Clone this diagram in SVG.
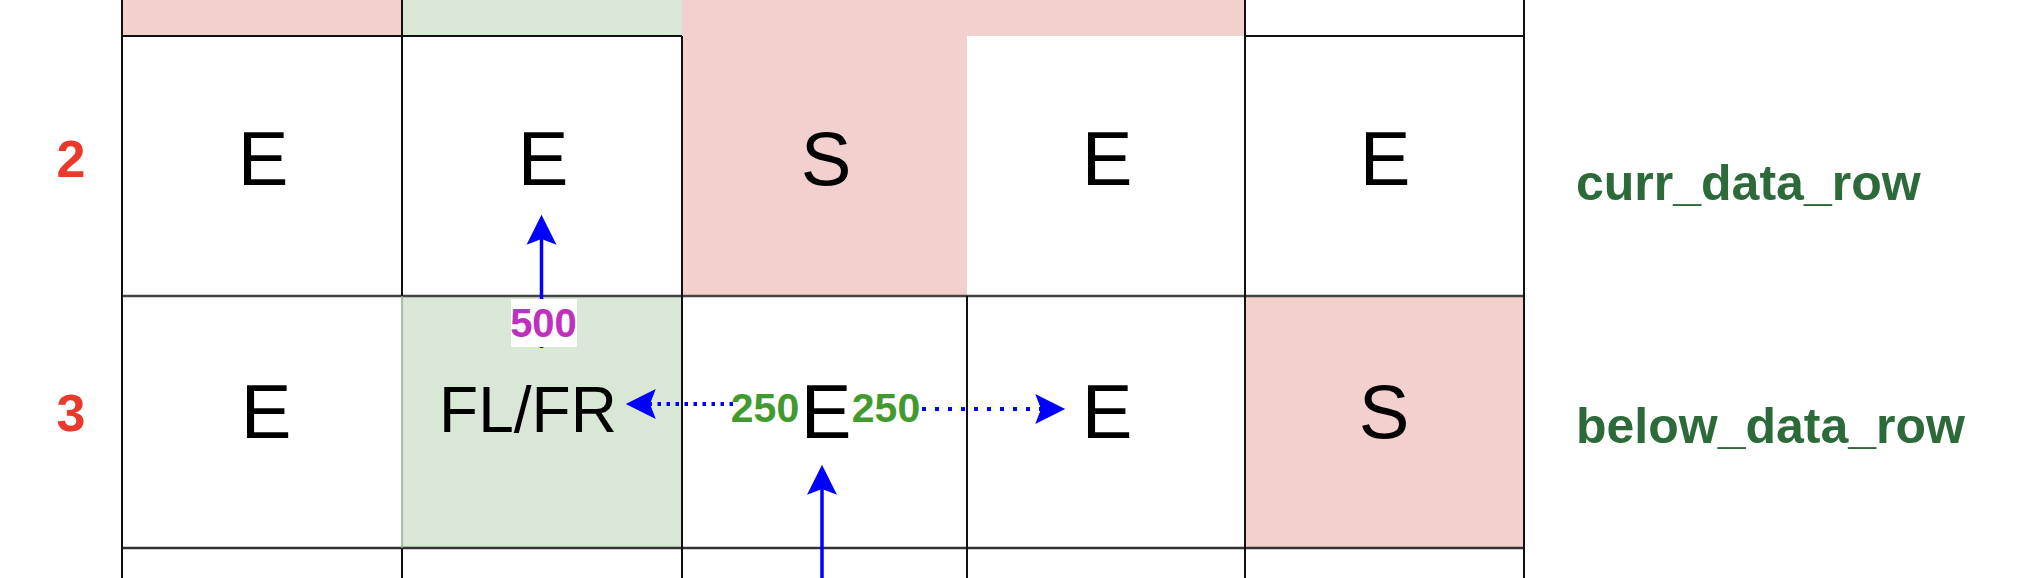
<svg xmlns="http://www.w3.org/2000/svg" width="2022" height="578" viewBox="0 0 2022 578">
<style>
.pink{fill:#f2d0ce}
.green{fill:#d9e7d7}
.white{fill:#ffffff}
.grid line{stroke:#111;stroke-width:2}
.cell{font-family:"Liberation Sans",Arial,Helvetica,sans-serif;font-size:76px;fill:#000;text-anchor:middle}
.rowno{font-family:"Liberation Sans",Arial,Helvetica,sans-serif;font-size:52px;font-weight:bold;fill:#e8392a;text-anchor:middle}
.rowname{font-family:"Liberation Sans",Arial,Helvetica,sans-serif;font-size:50px;font-weight:bold;fill:#2c6a3a}
.cost{font-family:"Liberation Sans",Arial,Helvetica,sans-serif;font-size:41px;font-weight:bold;fill:#429a2e;text-anchor:middle}
.cost5{font-family:"Liberation Sans",Arial,Helvetica,sans-serif;font-size:40px;font-weight:bold;fill:#bf30c0;text-anchor:middle}
.solid{stroke:#0000ff;stroke-width:3.5;fill:none}
.dot{stroke:#0000ff;stroke-width:4;fill:none}
</style>
<defs>
<marker id="arr" markerUnits="userSpaceOnUse" markerWidth="30" markerHeight="30" viewBox="0 0 26 26" refX="5" refY="13" orient="auto" overflow="visible">
<path d="M0,0 L26,13 L0,26 L5,13 Z" fill="#0000ff" stroke="none"/>
</marker>
</defs>
<rect x="0" y="0" width="2022" height="578" fill="#ffffff"/>

<g id="row1">
<rect class="pink" x="122" y="0" width="280" height="36"/>
<rect class="green" x="402" y="0" width="280" height="36"/>
<rect class="pink" x="682" y="0" width="563" height="36"/>
<rect class="white" x="1245" y="0" width="279" height="36"/>
</g>

<g id="cell-2-1"><rect class="white" x="122" y="36" width="280" height="260"/><text class="cell" x="263" y="185">E</text></g>
<g id="cell-2-2"><rect class="white" x="402" y="36" width="280" height="260"/><text class="cell" x="543" y="185">E</text></g>
<g id="cell-2-3"><rect class="pink" x="682" y="36" width="285" height="260"/><text class="cell" x="826" y="185">S</text></g>
<g id="cell-2-4"><rect class="white" x="967" y="36" width="278" height="260"/><text class="cell" x="1107" y="185">E</text></g>
<g id="cell-2-5"><rect class="white" x="1245" y="36" width="279" height="260"/><text class="cell" x="1385" y="185">E</text></g>

<g id="cell-3-1"><rect class="white" x="122" y="296" width="280" height="252"/><text class="cell" x="266" y="438">E</text></g>
<g id="cell-3-2"><rect class="green" x="402" y="296" width="280" height="252"/><text class="cell" x="528" y="432" style="font-size:64px">FL/FR</text></g>
<g id="cell-3-3"><rect class="white" x="682" y="296" width="285" height="252"/><text class="cell" x="826" y="438">E</text></g>
<g id="cell-3-4"><rect class="white" x="967" y="296" width="278" height="252"/><text class="cell" x="1107" y="438">E</text></g>
<g id="cell-3-5"><rect class="pink" x="1245" y="296" width="279" height="252"/><text class="cell" x="1384" y="438">S</text></g>

<g id="row4">
<rect class="white" x="122" y="548" width="1402" height="40"/>
</g>

<g class="grid" id="grid">
<line x1="122" y1="36" x2="682" y2="36"/>
<line x1="1245" y1="36" x2="1524" y2="36"/>
<line x1="122" y1="296" x2="1524" y2="296" style="stroke:#444;stroke-width:2.5"/>
<line x1="122" y1="548" x2="1524" y2="548" style="stroke:#333;stroke-width:2.5"/>
<line x1="122" y1="0" x2="122" y2="578"/>
<line x1="402" y1="0" x2="402" y2="296"/>
<line x1="402" y1="296" x2="402" y2="548" style="stroke:#9aa898;stroke-width:1.5"/>
<line x1="402" y1="548" x2="402" y2="578"/>
<line x1="682" y1="36" x2="682" y2="578"/>
<line x1="967" y1="296" x2="967" y2="578"/>
<line x1="1245" y1="0" x2="1245" y2="578"/>
<line x1="1524" y1="0" x2="1524" y2="578"/>
</g>

<g id="row-labels">
<text class="rowno" x="71" y="177">2</text>
<text class="rowno" x="71" y="431">3</text>
<text class="rowname" x="1576" y="200">curr_data_row</text>
<text class="rowname" x="1576" y="443">below_data_row</text>
</g>

<g id="connectors">
<line class="solid" x1="541.5" y1="348" x2="541.5" y2="239" marker-end="url(#arr)"/>
<line class="solid" x1="822" y1="580" x2="822" y2="489" marker-end="url(#arr)"/>
<line class="dot" x1="733" y1="404" x2="650" y2="404" stroke-dasharray="3.5 5.5" marker-end="url(#arr)"/>
<line class="dot" x1="922" y1="409" x2="1041" y2="409" stroke-dasharray="4 9" marker-end="url(#arr)"/>
<rect x="511" y="299" width="66" height="48" fill="#ffffff"/>
<text class="cost5" x="543.5" y="337">500</text>
<text class="cost" x="765" y="422">250</text>
<text class="cost" x="886" y="422">250</text>
</g>
</svg>
